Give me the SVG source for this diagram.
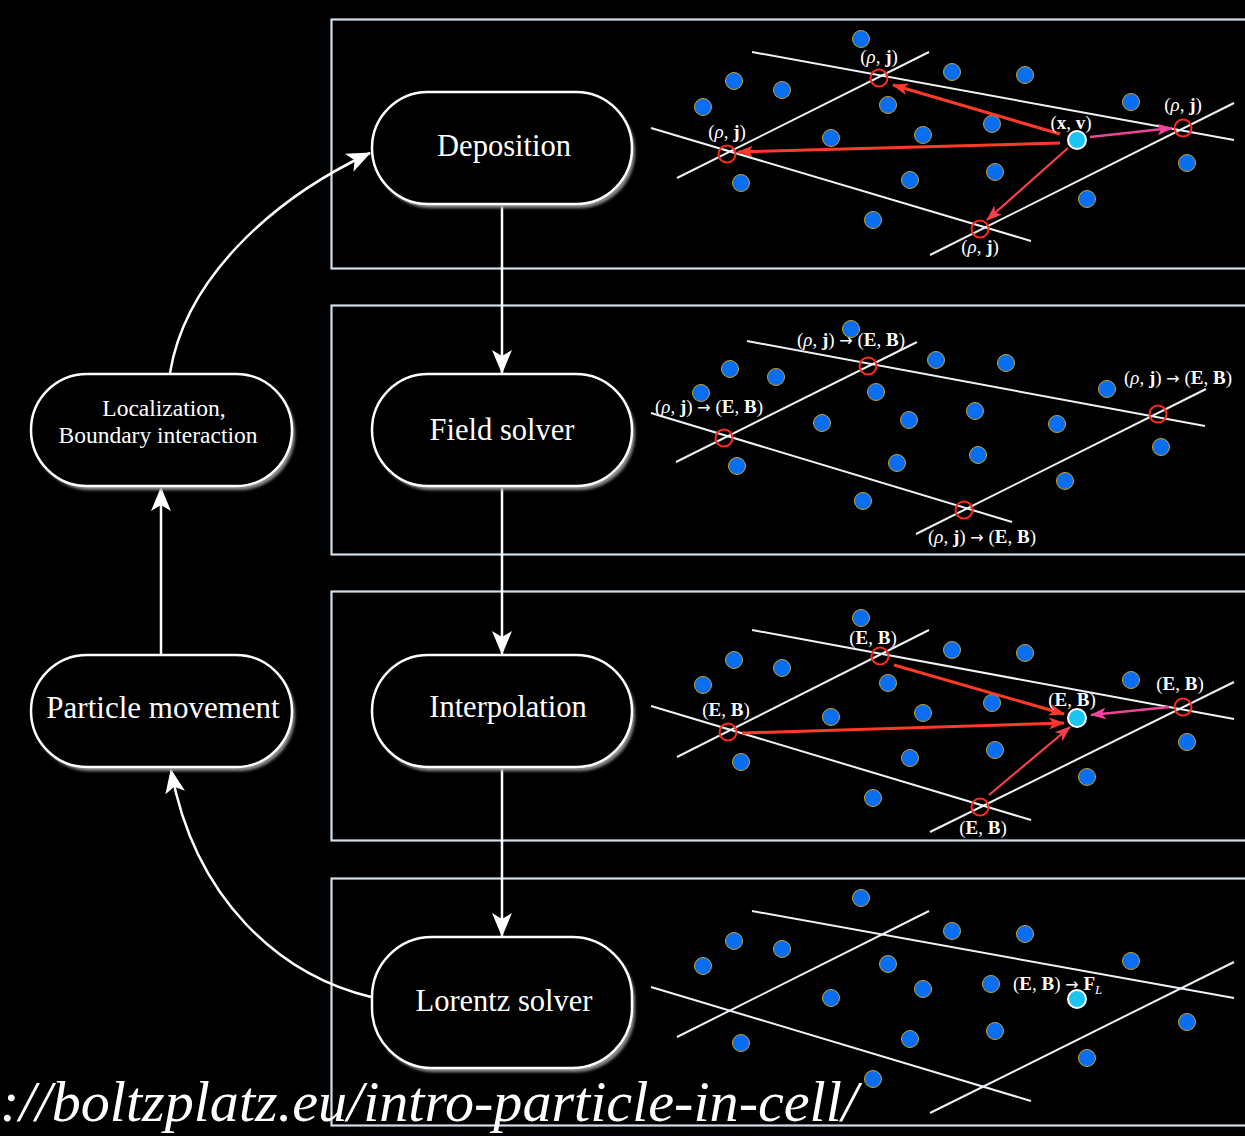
<svg xmlns="http://www.w3.org/2000/svg" width="1245" height="1136" viewBox="0 0 1245 1136">
<style>
.panel{fill:none;stroke:#d3dee8;stroke-width:2.2}
.node{fill:#000;stroke:#fff;stroke-width:2.5}
.shadow{fill:#8f8f8f;filter:url(#blur)}
.ntext{font-family:"Liberation Serif","Times New Roman",serif;fill:#fff;text-anchor:middle}
.grid{stroke:#eef3f7;stroke-width:2;fill:none}
.dot{fill:#0a6ef2;stroke:#c9a227;stroke-width:1}
.part{fill:#1cc4f4;stroke:#fff;stroke-width:2}
.node-pt{fill:none;stroke:#ff2a1a;stroke-width:2}
.lbl{font-family:"Liberation Serif","DejaVu Serif",serif;font-size:19px;fill:#fff;text-anchor:middle}
.b{font-weight:bold}
.i{font-style:italic}
.ar{font-family:"DejaVu Sans",sans-serif;font-size:16px}
.conn{stroke:#fff;stroke-width:2.5;fill:none;marker-end:url(#wh)}
.red{stroke:#ff3a2a;stroke-width:3;fill:none;marker-end:url(#rh)}
.pink{stroke:#f0449a;stroke-width:2.6;fill:none;marker-end:url(#ph)}
.redp{stroke:#f8404c;stroke-width:2.2;fill:none;marker-end:url(#rph)}
</style>
<defs>
<filter id="blur" x="-10%" y="-10%" width="120%" height="130%"><feGaussianBlur stdDeviation="1.5"/></filter>
<marker id="wh" viewBox="0 0 24 20" refX="23" refY="10" markerWidth="24" markerHeight="20" markerUnits="userSpaceOnUse" orient="auto"><path d="M0,0 L24,10 L0,20 L6,10 z" fill="#fff"/></marker>
<marker id="rh" viewBox="0 0 16 12" refX="15" refY="6" markerWidth="16" markerHeight="12" markerUnits="userSpaceOnUse" orient="auto"><path d="M0,0 L16,6 L0,12 L4,6 z" fill="#ff3a2a"/></marker>
<marker id="ph" viewBox="0 0 16 12" refX="15" refY="6" markerWidth="16" markerHeight="12" markerUnits="userSpaceOnUse" orient="auto"><path d="M0,0 L16,6 L0,12 L4,6 z" fill="#f0449a"/></marker>
<marker id="rph" viewBox="0 0 16 12" refX="15" refY="6" markerWidth="16" markerHeight="12" markerUnits="userSpaceOnUse" orient="auto"><path d="M0,0 L16,6 L0,12 L4,6 z" fill="#f8404c"/></marker>
</defs>
<rect x="0" y="0" width="1245" height="1136" fill="#000"/>

<g id="panels">
<rect class="panel" x="331.5" y="19.5" width="960" height="249"/>
<rect class="panel" x="331.5" y="305.5" width="960" height="249"/>
<rect class="panel" x="331.5" y="591.5" width="960" height="249"/>
<rect class="panel" x="331.5" y="878.5" width="960" height="247"/>
</g>

<g id="panel-deposition">
<line class="grid" x1="752" y1="52" x2="1234" y2="140"/>
<line class="grid" x1="677" y1="178" x2="929" y2="52"/>
<line class="grid" x1="651" y1="128" x2="1031" y2="241"/>
<line class="grid" x1="930" y1="255" x2="1234" y2="103"/>
<circle class="dot" cx="861" cy="39" r="8.5"/>
<circle class="dot" cx="734" cy="81" r="8.5"/>
<circle class="dot" cx="782" cy="90" r="8.5"/>
<circle class="dot" cx="703" cy="107" r="8.5"/>
<circle class="dot" cx="952" cy="72" r="8.5"/>
<circle class="dot" cx="1025" cy="75" r="8.5"/>
<circle class="dot" cx="1131" cy="102" r="8.5"/>
<circle class="dot" cx="888" cy="105" r="8.5"/>
<circle class="dot" cx="992" cy="124" r="8.5"/>
<circle class="dot" cx="831" cy="138" r="8.5"/>
<circle class="dot" cx="923" cy="135" r="8.5"/>
<circle class="dot" cx="1187" cy="163" r="8.5"/>
<circle class="dot" cx="741" cy="183" r="8.5"/>
<circle class="dot" cx="910" cy="180" r="8.5"/>
<circle class="dot" cx="995" cy="172" r="8.5"/>
<circle class="dot" cx="1087" cy="199" r="8.5"/>
<circle class="dot" cx="873" cy="220" r="8.5"/>
<circle class="node-pt" cx="879" cy="78" r="8.5"/>
<circle class="node-pt" cx="727" cy="154" r="8.5"/>
<circle class="node-pt" cx="980" cy="229" r="8.5"/>
<circle class="node-pt" cx="1183" cy="128" r="8.5"/>
<line class="red" x1="1060" y1="134" x2="893" y2="85"/>
<line class="red" x1="1060" y1="143" x2="738" y2="152"/>
<line class="redp" x1="1068" y1="148" x2="987" y2="220"/>
<line class="pink" x1="1090" y1="137" x2="1172" y2="128"/>
<circle class="part" cx="1077" cy="140" r="9"/>
<text class="lbl" x="879" y="63">(<tspan class="i">ρ</tspan>, <tspan class="b">j</tspan>)</text>
<text class="lbl" x="727" y="138">(<tspan class="i">ρ</tspan>, <tspan class="b">j</tspan>)</text>
<text class="lbl" x="980" y="253">(<tspan class="i">ρ</tspan>, <tspan class="b">j</tspan>)</text>
<text class="lbl" x="1183" y="111">(<tspan class="i">ρ</tspan>, <tspan class="b">j</tspan>)</text>
<text class="lbl" x="1071" y="129">(<tspan class="b">x</tspan>, <tspan class="b">v</tspan>)</text>
</g>

<g id="panel-field">
<line class="grid" x1="747" y1="341" x2="1205" y2="426"/>
<line class="grid" x1="676" y1="462" x2="917" y2="342"/>
<line class="grid" x1="651" y1="413" x2="1012" y2="522"/>
<line class="grid" x1="916" y1="534" x2="1206" y2="389"/>
<circle class="dot" cx="851" cy="329" r="8.5"/>
<circle class="dot" cx="730" cy="369" r="8.5"/>
<circle class="dot" cx="776" cy="377" r="8.5"/>
<circle class="dot" cx="701" cy="393" r="8.5"/>
<circle class="dot" cx="936" cy="360" r="8.5"/>
<circle class="dot" cx="1006" cy="363" r="8.5"/>
<circle class="dot" cx="1107" cy="389" r="8.5"/>
<circle class="dot" cx="876" cy="392" r="8.5"/>
<circle class="dot" cx="975" cy="411" r="8.5"/>
<circle class="dot" cx="822" cy="423" r="8.5"/>
<circle class="dot" cx="909" cy="420" r="8.5"/>
<circle class="dot" cx="1057" cy="424" r="8.5"/>
<circle class="dot" cx="1161" cy="447" r="8.5"/>
<circle class="dot" cx="737" cy="466" r="8.5"/>
<circle class="dot" cx="897" cy="463" r="8.5"/>
<circle class="dot" cx="978" cy="455" r="8.5"/>
<circle class="dot" cx="1065" cy="481" r="8.5"/>
<circle class="dot" cx="863" cy="501" r="8.5"/>
<circle class="node-pt" cx="868" cy="366" r="8.5"/>
<circle class="node-pt" cx="724" cy="438" r="8.5"/>
<circle class="node-pt" cx="964" cy="510" r="8.5"/>
<circle class="node-pt" cx="1158" cy="414" r="8.5"/>
<text class="lbl" x="851" y="346">(<tspan class="i">ρ</tspan>, <tspan class="b">j</tspan>) <tspan class="ar">→</tspan> (<tspan class="b">E</tspan>, <tspan class="b">B</tspan>)</text>
<text class="lbl" x="709" y="413">(<tspan class="i">ρ</tspan>, <tspan class="b">j</tspan>) <tspan class="ar">→</tspan> (<tspan class="b">E</tspan>, <tspan class="b">B</tspan>)</text>
<text class="lbl" x="1178" y="384">(<tspan class="i">ρ</tspan>, <tspan class="b">j</tspan>) <tspan class="ar">→</tspan> (<tspan class="b">E</tspan>, <tspan class="b">B</tspan>)</text>
<text class="lbl" x="982" y="543">(<tspan class="i">ρ</tspan>, <tspan class="b">j</tspan>) <tspan class="ar">→</tspan> (<tspan class="b">E</tspan>, <tspan class="b">B</tspan>)</text>
</g>

<g id="panel-interp">
<line class="grid" x1="752" y1="630" x2="1234" y2="719"/>
<line class="grid" x1="677" y1="757" x2="929" y2="630"/>
<line class="grid" x1="651" y1="706" x2="1031" y2="820"/>
<line class="grid" x1="930" y1="832" x2="1234" y2="682"/>
<circle class="dot" cx="861" cy="618" r="8.5"/>
<circle class="dot" cx="734" cy="660" r="8.5"/>
<circle class="dot" cx="782" cy="668" r="8.5"/>
<circle class="dot" cx="703" cy="685" r="8.5"/>
<circle class="dot" cx="952" cy="650" r="8.5"/>
<circle class="dot" cx="1025" cy="653" r="8.5"/>
<circle class="dot" cx="1131" cy="680" r="8.5"/>
<circle class="dot" cx="888" cy="683" r="8.5"/>
<circle class="dot" cx="992" cy="703" r="8.5"/>
<circle class="dot" cx="831" cy="717" r="8.5"/>
<circle class="dot" cx="923" cy="713" r="8.5"/>
<circle class="dot" cx="1187" cy="742" r="8.5"/>
<circle class="dot" cx="741" cy="762" r="8.5"/>
<circle class="dot" cx="910" cy="758" r="8.5"/>
<circle class="dot" cx="995" cy="750" r="8.5"/>
<circle class="dot" cx="1087" cy="777" r="8.5"/>
<circle class="dot" cx="873" cy="798" r="8.5"/>
<circle class="node-pt" cx="880" cy="656" r="8.5"/>
<circle class="node-pt" cx="728" cy="732" r="8.5"/>
<circle class="node-pt" cx="980" cy="807" r="8.5"/>
<circle class="node-pt" cx="1183" cy="707" r="8.5"/>
<line class="red" x1="894" y1="665" x2="1064" y2="714"/>
<line class="red" x1="742" y1="733" x2="1064" y2="723"/>
<line class="redp" x1="989" y1="795" x2="1070" y2="727"/>
<line class="pink" x1="1169" y1="707" x2="1091" y2="715"/>
<circle class="part" cx="1077" cy="718" r="9"/>
<text class="lbl" x="873" y="644">(<tspan class="b">E</tspan>, <tspan class="b">B</tspan>)</text>
<text class="lbl" x="726" y="716">(<tspan class="b">E</tspan>, <tspan class="b">B</tspan>)</text>
<text class="lbl" x="1072" y="706">(<tspan class="b">E</tspan>, <tspan class="b">B</tspan>)</text>
<text class="lbl" x="1180" y="690">(<tspan class="b">E</tspan>, <tspan class="b">B</tspan>)</text>
<text class="lbl" x="983" y="834">(<tspan class="b">E</tspan>, <tspan class="b">B</tspan>)</text>
</g>

<g id="panel-lorentz">
<line class="grid" x1="752" y1="911" x2="1234" y2="998"/>
<line class="grid" x1="677" y1="1037" x2="929" y2="911"/>
<line class="grid" x1="651" y1="987" x2="1031" y2="1101"/>
<line class="grid" x1="930" y1="1113" x2="1234" y2="962"/>
<circle class="dot" cx="861" cy="898" r="8.5"/>
<circle class="dot" cx="734" cy="941" r="8.5"/>
<circle class="dot" cx="782" cy="949" r="8.5"/>
<circle class="dot" cx="703" cy="966" r="8.5"/>
<circle class="dot" cx="952" cy="931" r="8.5"/>
<circle class="dot" cx="1025" cy="934" r="8.5"/>
<circle class="dot" cx="1131" cy="961" r="8.5"/>
<circle class="dot" cx="888" cy="964" r="8.5"/>
<circle class="dot" cx="991" cy="984" r="8.5"/>
<circle class="dot" cx="831" cy="998" r="8.5"/>
<circle class="dot" cx="923" cy="989" r="8.5"/>
<circle class="dot" cx="1187" cy="1022" r="8.5"/>
<circle class="dot" cx="741" cy="1043" r="8.5"/>
<circle class="dot" cx="910" cy="1039" r="8.5"/>
<circle class="dot" cx="995" cy="1031" r="8.5"/>
<circle class="dot" cx="1087" cy="1058" r="8.5"/>
<circle class="dot" cx="873" cy="1079" r="8.5"/>
<circle class="part" cx="1077" cy="999" r="9"/>
<text class="lbl" x="1013" y="990" style="text-anchor:start">(<tspan class="b">E</tspan>, <tspan class="b">B</tspan>) <tspan class="ar">→</tspan> <tspan class="b">F</tspan><tspan class="i" font-size="13" dy="4">L</tspan></text>
</g>

<g id="connectors">
<line class="conn" x1="502" y1="205" x2="502" y2="373"/>
<line class="conn" x1="502" y1="487" x2="502" y2="654"/>
<line class="conn" x1="502" y1="768" x2="502" y2="936"/>
<line class="conn" x1="161" y1="655" x2="161" y2="488"/>
<path class="conn" d="M170,373 C185,280 270,200 370,153"/>
<path class="conn" d="M371,997 C280,975 195,900 171,770"/>
</g>

<g id="node-deposition">
<rect class="shadow" x="375" y="96" width="260" height="112" rx="56"/>
<rect class="node" x="372" y="92" width="260" height="112" rx="56"/>
<text class="ntext" x="504" y="156" font-size="30.5">Deposition</text>
</g>
<g id="node-field">
<rect class="shadow" x="375" y="378" width="260" height="112" rx="56"/>
<rect class="node" x="372" y="374" width="260" height="112" rx="56"/>
<text class="ntext" x="502" y="440" font-size="30.5">Field solver</text>
</g>
<g id="node-interp">
<rect class="shadow" x="375" y="659" width="260" height="112" rx="56"/>
<rect class="node" x="372" y="655" width="260" height="112" rx="56"/>
<text class="ntext" x="508" y="717" font-size="30.5">Interpolation</text>
</g>
<g id="node-lorentz">
<rect class="shadow" x="375" y="941" width="260" height="131" rx="60"/>
<rect class="node" x="372" y="937" width="260" height="131" rx="60"/>
<text class="ntext" x="504" y="1011" font-size="30.5">Lorentz solver</text>
</g>
<g id="node-local">
<rect class="shadow" x="34" y="378" width="261" height="112" rx="56"/>
<rect class="node" x="31" y="374" width="261" height="112" rx="56"/>
<text class="ntext" x="164" y="416" font-size="23.5">Localization,</text>
<text class="ntext" x="158" y="443" font-size="23.5">Boundary interaction</text>
</g>
<g id="node-move">
<rect class="shadow" x="34" y="659" width="261" height="112" rx="56"/>
<rect class="node" x="31" y="655" width="261" height="112" rx="56"/>
<text class="ntext" x="163" y="718" font-size="31">Particle movement</text>
</g>

<text x="0" y="1121" font-family="Liberation Serif, serif" font-style="italic" font-size="56" fill="#fff" textLength="858" lengthAdjust="spacingAndGlyphs">://boltzplatz.eu/intro-particle-in-cell/</text>
</svg>
